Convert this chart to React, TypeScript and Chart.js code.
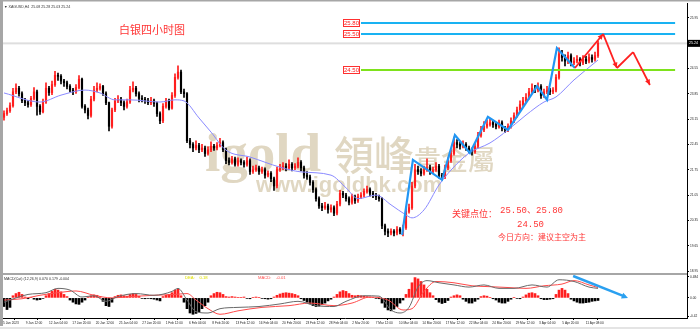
import React, { useEffect, useRef } from "react";
import { Chart, registerables } from "chart.js";
Chart.register(...registerables);

// ---------- data (H4 silver; each candle ~ 2 H4 bars) ----------
const FIRST_OPEN = 23.2;
const CLOSE = [
  23.30,23.38,23.52,23.90,24.00,23.85,23.66,23.60,23.55,23.72,
  23.90,23.50,23.35,23.62,24.00,23.88,24.10,24.36,24.33,24.20,
  24.15,24.05,23.95,23.90,24.02,24.25,23.50,23.40,23.25,23.70,
  23.95,24.00,24.05,23.85,23.60,22.95,23.40,23.65,23.70,23.60,
  23.50,23.62,23.95,24.00,23.85,23.72,23.70,23.66,23.60,23.65,
  23.58,23.30,23.10,23.50,23.65,23.45,23.80,24.30,24.45,23.90,
  23.85,22.55,22.45,22.35,22.42,22.30,22.35,22.20,22.30,22.40,
  22.35,22.42,22.50,22.30,22.00,21.95,22.05,21.90,22.00,21.95,
  21.90,22.00,21.70,21.75,21.80,21.70,21.75,21.60,21.65,21.50,
  21.30,21.75,21.80,21.85,21.80,21.90,21.80,21.85,21.95,21.80,
  21.60,21.55,21.40,21.20,20.95,20.75,20.70,20.75,20.65,20.70,
  20.55,20.80,21.10,21.05,20.95,20.85,21.00,20.90,21.00,21.05,
  21.15,21.20,21.10,21.05,21.00,20.95,20.20,20.05,20.00,20.05,
  20.00,20.10,20.05,20.15,20.60,20.70,21.30,21.75,21.70,21.65,
  21.75,21.80,21.70,21.75,21.85,21.60,21.55,21.80,22.00,22.20,
  22.50,22.45,22.40,22.45,22.35,22.30,22.25,22.40,22.70,22.85,
  22.95,23.00,23.05,23.00,22.95,23.05,22.90,22.85,22.95,23.10,
  23.25,23.40,23.55,23.65,23.75,23.90,24.00,23.95,24.05,23.80,
  23.90,23.95,23.90,23.95,24.30,24.95,24.85,24.75,24.90,24.70,
  24.75,24.80,24.70,24.80,24.75,24.85,24.80,24.90,25.24,
];
const HIGH = [
  23.38,23.45,23.60,24.00,24.12,24.05,23.90,23.72,23.66,23.78,
  24.02,23.95,23.55,23.70,24.15,24.05,24.20,24.47,24.42,24.38,
  24.25,24.20,24.10,24.00,24.10,24.35,24.28,23.55,23.45,23.78,
  24.05,24.15,24.12,24.08,23.90,23.62,23.45,23.72,23.80,23.75,
  23.65,23.70,24.05,24.18,24.05,23.90,23.80,23.75,23.72,23.75,
  23.70,23.62,23.35,23.58,23.72,23.70,23.88,24.40,24.62,24.50,
  23.98,23.88,22.62,22.50,22.55,22.48,22.45,22.40,22.38,22.52,
  22.45,22.50,22.62,22.55,22.35,22.08,22.12,22.10,22.08,22.05,
  22.00,22.10,22.05,21.85,21.88,21.85,21.82,21.80,21.72,21.70,
  21.55,21.82,21.90,21.95,21.92,22.02,21.95,21.92,22.08,22.00,
  21.85,21.70,21.60,21.45,21.25,21.00,20.82,20.85,20.80,20.78,
  20.75,20.88,21.18,21.15,21.10,21.00,21.08,21.05,21.08,21.12,
  21.22,21.30,21.25,21.15,21.10,21.05,20.98,20.25,20.12,20.12,
  20.10,20.18,20.15,20.22,20.68,20.80,21.40,21.90,21.85,21.78,
  21.85,22.05,21.88,21.82,21.95,21.90,21.65,21.88,22.08,22.30,
  22.65,22.58,22.52,22.55,22.50,22.40,22.35,22.48,22.78,22.95,
  23.08,23.12,23.15,23.10,23.05,23.12,23.10,22.95,23.02,23.18,
  23.32,23.48,23.65,23.75,23.85,24.00,24.12,24.08,24.15,24.10,
  23.98,24.05,24.00,24.02,24.38,25.12,25.05,24.92,25.00,24.95,
  24.85,24.90,24.85,24.90,24.88,24.95,24.92,25.00,25.30,
];
const LOW = [
  23.12,23.25,23.33,23.48,23.85,23.78,23.60,23.52,23.48,23.50,
  23.68,23.26,23.28,23.32,23.58,23.80,23.82,24.05,24.22,24.12,
  24.05,23.98,23.90,23.82,23.86,23.98,23.45,23.32,23.15,23.20,
  23.65,23.90,23.95,23.80,23.55,22.82,22.90,23.35,23.60,23.52,
  23.40,23.45,23.58,23.90,23.78,23.62,23.62,23.58,23.55,23.55,
  23.50,23.22,23.02,23.05,23.45,23.40,23.42,23.75,24.25,23.85,
  23.75,22.50,22.35,22.25,22.30,22.22,22.25,22.12,22.15,22.25,
  22.28,22.30,22.38,22.25,21.92,21.88,21.90,21.85,21.85,21.88,
  21.82,21.85,21.62,21.65,21.70,21.62,21.65,21.52,21.55,21.42,
  21.18,21.25,21.70,21.75,21.72,21.75,21.72,21.75,21.80,21.72,
  21.52,21.48,21.32,21.12,20.88,20.68,20.62,20.65,20.55,20.58,
  20.48,20.50,20.75,20.98,20.88,20.78,20.80,20.82,20.85,20.95,
  21.00,21.10,21.02,20.98,20.92,20.88,20.12,19.95,19.90,19.95,
  19.92,19.95,19.98,19.92,20.10,20.55,20.65,21.25,21.62,21.58,
  21.60,21.70,21.62,21.65,21.70,21.52,21.48,21.50,21.75,21.95,
  22.15,22.35,22.32,22.35,22.28,22.22,22.15,22.20,22.35,22.65,
  22.80,22.90,22.95,22.92,22.88,22.90,22.82,22.78,22.80,22.90,
  23.05,23.20,23.35,23.50,23.60,23.70,23.85,23.88,23.90,23.72,
  23.75,23.85,23.82,23.85,23.90,24.25,24.75,24.62,24.68,24.62,
  24.65,24.70,24.62,24.65,24.68,24.70,24.72,24.75,24.85,
];
// moving average, read at sparse candles
const MA_IDX = [0,12,19,27,32,37,42,52,57,60,65,69,74,82,92,99,109,114,118,124,129,134,136,140,145,149,155,162,168,174,180,184,190,198];
const MA = [23.87,23.62,23.81,23.95,23.87,23.68,23.68,23.62,23.68,23.65,23.18,22.79,22.29,22.10,21.82,21.69,21.60,21.25,20.95,21.05,20.78,20.50,20.42,20.64,21.33,21.74,22.21,22.49,22.85,23.26,23.62,23.76,24.23,24.78];
// MACD histogram per candle
const HIST = [
  -0.20,-0.27,-0.22,0.05,0.10,0.13,0.08,0.02,-0.02,0.01,
  -0.03,-0.05,-0.04,-0.01,0.05,0.10,0.15,0.20,0.18,0.14,
  0.08,0.03,-0.05,-0.10,-0.14,-0.15,-0.10,-0.05,0.02,0.05,
  0.07,0.06,0.03,-0.08,-0.18,-0.20,-0.10,0.03,0.06,0.07,
  0.05,0.04,0.08,0.10,0.08,0.04,-0.01,-0.02,-0.01,-0.02,
  -0.03,-0.05,-0.07,0.03,0.06,0.08,0.12,0.18,0.20,0.05,
  -0.10,-0.25,-0.35,-0.38,-0.36,-0.32,-0.25,-0.18,-0.10,0.05,
  0.10,0.13,0.12,0.08,0.03,0.02,0.03,0.02,0.01,0.01,
  0.02,-0.01,-0.02,0.01,0.02,0.01,-0.01,-0.02,-0.03,-0.02,
  0.02,0.06,0.09,0.11,0.12,0.11,0.10,0.08,0.05,-0.02,
  -0.06,-0.10,-0.14,-0.18,-0.20,-0.19,-0.16,-0.12,-0.07,-0.03,
  0.02,0.08,0.14,0.17,0.15,0.10,0.06,0.05,0.06,0.05,
  0.04,0.03,0.02,0.01,-0.01,-0.02,-0.12,-0.22,-0.28,-0.30,
  -0.26,-0.20,-0.12,-0.05,0.08,0.20,0.35,0.47,0.44,0.38,
  0.30,0.20,0.12,0.05,-0.04,-0.10,-0.13,-0.11,-0.06,0.02,
  0.05,0.07,0.05,-0.03,-0.08,-0.12,-0.12,-0.08,-0.03,0.03,
  0.05,0.04,0.01,-0.02,-0.05,-0.10,-0.12,-0.12,-0.08,-0.03,
  0.01,-0.01,-0.02,0.02,0.07,0.11,0.12,0.10,0.05,-0.02,
  -0.04,-0.04,-0.03,-0.02,0.08,0.18,0.22,0.18,0.10,-0.03,
  -0.07,-0.10,-0.12,-0.12,-0.11,-0.10,-0.08,-0.07,-0.06,
];
const DIF_IDX = [0,4,8,14,18,22,26,30,34,38,44,50,56,58,61,64,68,72,78,85,92,98,104,110,114,120,125,129,132,135,138,141,145,150,155,160,165,170,176,181,185,190,195,198];
const DIF = [-0.10,0.00,0.08,0.12,0.22,0.18,0.02,0.05,-0.08,0.03,0.10,0.06,0.15,0.22,-0.05,-0.32,-0.35,-0.25,-0.22,-0.20,-0.14,-0.08,-0.18,-0.20,-0.08,0.05,0.04,-0.28,-0.35,-0.22,0.25,0.40,0.35,0.30,0.25,0.30,0.22,0.22,0.30,0.25,0.42,0.38,0.25,0.22];
const SIG_IDX = [0,6,12,18,24,30,36,42,50,57,61,64,68,72,78,86,95,102,110,116,122,128,133,136,140,144,150,156,162,168,174,180,186,190,195,198];
const SIG = [-0.05,-0.02,0.06,0.12,0.16,0.06,0.00,0.03,0.06,0.08,0.10,-0.05,-0.25,-0.38,-0.30,-0.22,-0.18,-0.12,-0.18,-0.12,0.02,-0.05,-0.28,-0.25,0.15,0.38,0.35,0.28,0.26,0.24,0.22,0.28,0.32,0.40,0.30,0.24];

const Y_TICKS = [18.95,19.30,19.65,20.00,20.35,20.70,21.05,21.40,21.75,22.10,22.45,22.80,23.15,23.50,23.85,24.20,24.55,24.90,25.25,25.60,25.95,26.30];
const MACD_TICKS = [0.484, 0, -0.42];
const MACD_TICK_LABELS = ["0.484", "0.00", "-0.42"];
const TIME_LABELS = ["5 Jan 2023","9 Jan 12:00","12 Jan 04:00","17 Jan 20:00","20 Jan 12:00","25 Jan 04:00","27 Jan 20:00","1 Feb 12:00","6 Feb 04:00","8 Feb 20:00","13 Feb 12:00","16 Feb 04:00","20 Feb 20:00","23 Feb 12:00","28 Feb 04:00","2 Mar 20:00","7 Mar 12:00","10 Mar 04:00","14 Mar 20:00","17 Mar 12:00","22 Mar 04:00","24 Mar 20:00","29 Mar 12:00","3 Apr 04:00","5 Apr 20:00","11 Apr 08:00"];

const LEVELS = [25.8, 25.5, 24.5];
const LEVEL_LABELS = ["25.80", "25.50", "24.50"];
const LAST_PRICE = 25.24;
const BLUE_ZZ_I = [132.7,136.3,146,150.3,155.3,161.3,168,177.7,181,184.3,190.3];
const BLUE_ZZ_P = [19.95,22.02,21.47,22.71,22.21,23.21,22.85,24.06,23.68,25.11,24.56];
const RED_ZZ_I = [190.3,199.7,204.3,209.7,215.3];
const RED_ZZ_P = [24.56,25.50,24.56,25.00,24.09];
const MACD_ARROW_I = [189.7, 208];
const MACD_ARROW_V = [0.507, 0.0];

// ---------- layout ----------
const X_MIN = -1 / 3;
const X_MAX = X_MIN + 228;
const LEVEL_FROM = 119;
const LEVEL_TO = 223.7;
const TICK_START = 7.233;
const TICK_STEP = 7.777;

function arrowHead(ctx: CanvasRenderingContext2D, x1: number, y1: number, x2: number, y2: number, size: number) {
  const a = Math.atan2(y2 - y1, x2 - x1);
  ctx.beginPath();
  ctx.moveTo(x2, y2);
  ctx.lineTo(x2 - size * Math.cos(a - 0.45), y2 - size * Math.sin(a - 0.45));
  ctx.lineTo(x2 - size * Math.cos(a + 0.45), y2 - size * Math.sin(a + 0.45));
  ctx.closePath();
  ctx.fill();
}

const decor = {
  id: "decor",
  beforeDraw(chart: any) {
    const { ctx, width, height } = chart;
    ctx.save();
    ctx.fillStyle = "#ffffff";
    ctx.fillRect(0, 0, width, height);
    ctx.restore();
  },
  beforeDatasetsDraw(chart: any) {
    const { ctx, chartArea: ca, scales } = chart;
    const y = scales.y;
    ctx.save();
    ctx.fillStyle = "rgba(180,160,110,0.42)";
    ctx.textBaseline = "alphabetic";
    ctx.textAlign = "left";
    ctx.font = 'bold 55px "Liberation Serif"';
    ctx.fillText("igold", 205, 171);
    ctx.font = '500 40px "Noto Sans CJK TC"';
    ctx.fillText("領峰", 334, 170);
    ctx.font = '500 27px "Noto Sans CJK TC"';
    ctx.fillText("貴金屬", 414, 170);
    ctx.font = 'bold 22px "Liberation Sans"';
    ctx.fillText("www.igoldhk.com", 256, 192);
    const by = y.getPixelForValue(LAST_PRICE);
    ctx.fillStyle = "#dedede";
    ctx.fillRect(ca.left, by - 1, ca.right - ca.left, 2);
    ctx.restore();
  },
  afterDatasetsDraw(chart: any) {
    const { ctx, chartArea: ca, scales } = chart;
    const x = scales.x, y = scales.y, ym = scales.ym;
    ctx.save();
    // level lines
    const levelColors = ["#19b2f2", "#19b2f2", "#7ee21c"];
    LEVELS.forEach((lv, k) => {
      const py = Math.round(y.getPixelForValue(lv));
      const x1 = x.getPixelForValue(LEVEL_FROM), x2 = x.getPixelForValue(LEVEL_TO);
      ctx.fillStyle = levelColors[k];
      ctx.fillRect(x1, py - 1, x2 - x1, 2);
      const bw = 17, bh = 8;
      ctx.fillStyle = "#ffffff";
      ctx.fillRect(x1 - bw - 1, py - bh / 2, bw, bh);
      ctx.strokeStyle = "#ff3030";
      ctx.lineWidth = 1;
      ctx.strokeRect(x1 - bw - 0.5, py - bh / 2 + 0.5, bw - 1, bh - 1);
      ctx.fillStyle = "#ff2020";
      ctx.font = '6px "Liberation Sans"';
      ctx.textAlign = "center";
      ctx.textBaseline = "middle";
      ctx.fillText(LEVEL_LABELS[k], x1 - bw / 2 - 1, py + 0.5);
    });
    // blue zigzag
    ctx.strokeStyle = "#2196f3";
    ctx.lineWidth = 2.2;
    ctx.lineJoin = "miter";
    ctx.beginPath();
    BLUE_ZZ_I.forEach((i, k) => {
      const px = x.getPixelForValue(i), py = y.getPixelForValue(BLUE_ZZ_P[k]);
      if (k === 0) ctx.moveTo(px, py); else ctx.lineTo(px, py);
    });
    ctx.stroke();
    // red zigzag with arrows
    ctx.strokeStyle = "#ff2020";
    ctx.fillStyle = "#ff2020";
    ctx.lineWidth = 1.8;
    const rp = RED_ZZ_I.map((i, k) => [x.getPixelForValue(i), y.getPixelForValue(RED_ZZ_P[k])]);
    for (let k = 1; k < rp.length; k++) {
      ctx.beginPath();
      ctx.moveTo(rp[k - 1][0], rp[k - 1][1]);
      ctx.lineTo(rp[k][0], rp[k][1]);
      ctx.stroke();
      if (k === 1 || k === 2 || k === 4) arrowHead(ctx, rp[k - 1][0], rp[k - 1][1], rp[k][0], rp[k][1], 6);
    }
    // MACD arrow
    const a1 = [x.getPixelForValue(MACD_ARROW_I[0]), ym.getPixelForValue(MACD_ARROW_V[0])];
    const a2 = [x.getPixelForValue(MACD_ARROW_I[1]), ym.getPixelForValue(MACD_ARROW_V[1])];
    ctx.strokeStyle = "#2aa0f0";
    ctx.fillStyle = "#2aa0f0";
    ctx.lineWidth = 2.5;
    ctx.beginPath();
    ctx.moveTo(a1[0], a1[1]);
    ctx.lineTo(a2[0] - 3, a2[1] - 1.2);
    ctx.stroke();
    arrowHead(ctx, a1[0], a1[1], a2[0], a2[1], 7);

    // texts
    ctx.textAlign = "left";
    ctx.textBaseline = "alphabetic";
    ctx.fillStyle = "#ff3535";
    ctx.font = '11px "Noto Sans CJK SC"';
    ctx.fillText("白银四小时图", 119, 34);
    ctx.font = '9px "Noto Sans CJK SC"';
    ctx.fillText("关键点位：", 452, 217);
    ctx.font = '9px "Liberation Mono", "Noto Sans CJK SC"';
    ctx.fillText("25.50、25.80", 500, 213);
    ctx.fillText("24.50", 517, 227);
    ctx.font = '8px "Noto Sans CJK SC"';
    ctx.fillText("今日方向：建议主空为主", 498, 240);

    // frame pieces
    ctx.fillStyle = "#a6a6a6";
    ctx.fillRect(0, 0, 3, chart.height - 3);
    ctx.fillRect(0, 0, chart.width, 1.5);
    ctx.fillRect(0, 273, ca.right, 2);
    ctx.fillStyle = "#e4e4e4";
    ctx.fillRect(0, chart.height - 2, chart.width, 2);

    // header texts
    ctx.fillStyle = "#333";
    ctx.font = '3.6px "Liberation Sans"';
    ctx.fillText("\u25BC XAGUSD,H4  25.08 25.28 25.03 25.24", 4, 7.5);
    ctx.fillText("MACD(Cat) (12,26,9) 0.070 0.179 -0.004", 4, 279.5);
    ctx.fillStyle = "#e0e000";
    ctx.font = '4.2px "Liberation Sans"';
    ctx.fillText("DEA:    0.18", 185, 279);
    ctx.fillStyle = "#ff5050";
    ctx.fillText("MACD:    -0.01", 258, 279);

    // last price box
    const by = y.getPixelForValue(LAST_PRICE);
    ctx.fillStyle = "#000";
    ctx.fillRect(ca.right, by - 3.5, chart.width - ca.right, 7);
    ctx.fillStyle = "#fff";
    ctx.font = '3.6px "Liberation Sans"';
    ctx.textBaseline = "middle";
    ctx.fillText(LAST_PRICE.toFixed(2), ca.right + 2, by);
    ctx.restore();
  },
};

export default function App() {
  const ref = useRef<HTMLCanvasElement>(null);
  useEffect(() => {
    const canvas = ref.current!;
    const opens = CLOSE.map((c, i) => (i === 0 ? FIRST_OPEN : CLOSE[i - 1]));
    const colors = CLOSE.map((c, i) => (c >= opens[i] ? "#ff1e1e" : "#000000"));
    const tickFont = { size: 3.2, family: "Liberation Sans" };
    const chart = new Chart(canvas, {
      type: "bar",
      data: {
        datasets: [
          {
            type: "line", label: "MA", yAxisID: "y", order: 0,
            data: MA_IDX.map((i, k) => ({ x: i, y: MA[k] })),
            borderColor: "#8a8aff", borderWidth: 1, pointRadius: 0, cubicInterpolationMode: "monotone",
          },
          {
            type: "bar", label: "body", yAxisID: "y", order: 1, grouped: false,
            data: CLOSE.map((c, i) => ({ x: i, y: [opens[i], c] })),
            backgroundColor: colors, barThickness: 1.5, borderWidth: 0,
          },
          {
            type: "bar", label: "wick", yAxisID: "y", order: 2, grouped: false,
            data: CLOSE.map((c, i) => ({ x: i, y: [LOW[i], HIGH[i]] })),
            backgroundColor: colors, barThickness: 1, borderWidth: 0,
          },
          {
            type: "bar", label: "hist", yAxisID: "ym", order: 3, grouped: false,
            data: HIST.map((v, i) => ({ x: i, y: v })),
            backgroundColor: HIST.map((v) => (v >= 0 ? "#ff2020" : "#000000")), barThickness: 2, borderWidth: 0,
          },
          {
            type: "line", label: "DIF", yAxisID: "ym", order: 0,
            data: DIF_IDX.map((i, k) => ({ x: i, y: DIF[k] })),
            borderColor: "#6a6a6a", borderWidth: 1, pointRadius: 0, cubicInterpolationMode: "monotone",
          },
          {
            type: "line", label: "SIG", yAxisID: "ym", order: 0,
            data: SIG_IDX.map((i, k) => ({ x: i, y: SIG[k] })),
            borderColor: "#ff4a4a", borderWidth: 1, pointRadius: 0, cubicInterpolationMode: "monotone",
          },
        ] as any,
      },
      options: {
        responsive: false,
        animation: false,
        devicePixelRatio: 1,
        events: [],
        layout: { padding: { left: 3, top: 3, right: 0, bottom: 0 } },
        plugins: { legend: { display: false }, tooltip: { enabled: false } },
        scales: {
          x: {
            type: "linear", min: X_MIN, max: X_MAX, offset: false, position: "bottom",
            grid: { drawOnChartArea: false, drawTicks: true, tickLength: 2, color: "#000" },
            border: { display: true, color: "#000", width: 1 },
            ticks: {
              autoSkip: false, maxRotation: 0, align: "start", padding: 1.5,
              font: tickFont, color: "#222",
              callback: (_v: any, idx: number) => TIME_LABELS[idx] ?? "",
            },
            afterBuildTicks: (s: any) => {
              s.ticks = TIME_LABELS.map((_, k) => ({ value: k === 0 ? X_MIN : TICK_START + TICK_STEP * (k - 1) }));
            },
            afterFit: (s: any) => { s.height = 11; },
          },
          y: {
            type: "linear", position: "right", stack: "v", stackWeight: 272,
            min: 18.842, max: 26.355,
            grid: { drawOnChartArea: false, drawTicks: true, tickLength: 2, color: "#000" },
            border: { display: true, color: "#000", width: 1 },
            ticks: { padding: 1, font: tickFont, color: "#222", callback: (v: any) => Number(v).toFixed(2) },
            afterBuildTicks: (s: any) => { s.ticks = Y_TICKS.map((v) => ({ value: v })); },
            afterFit: (s: any) => { s.width = 13; },
          },
          ym: {
            type: "linear", position: "right", stack: "v", stackWeight: 43,
            min: -0.466, max: 0.53,
            grid: { drawOnChartArea: false, drawTicks: true, tickLength: 2, color: "#000" },
            border: { display: true, color: "#000", width: 1 },
            ticks: { padding: 1, font: tickFont, color: "#222", callback: (_v: any, idx: number) => MACD_TICK_LABELS[idx] ?? "" },
            afterBuildTicks: (s: any) => { s.ticks = MACD_TICKS.map((v) => ({ value: v })); },
            afterFit: (s: any) => { s.width = 13; },
          },
        } as any,
      },
      plugins: [decor as any],
    });
    return () => chart.destroy();
  }, []);
  return (
    <div style={{ position: "fixed", left: 0, top: 0, width: 700, height: 329, background: "#fff" }}>
      <canvas ref={ref} width={700} height={329} style={{ display: "block", width: 700, height: 329 }} />
    </div>
  );
}
